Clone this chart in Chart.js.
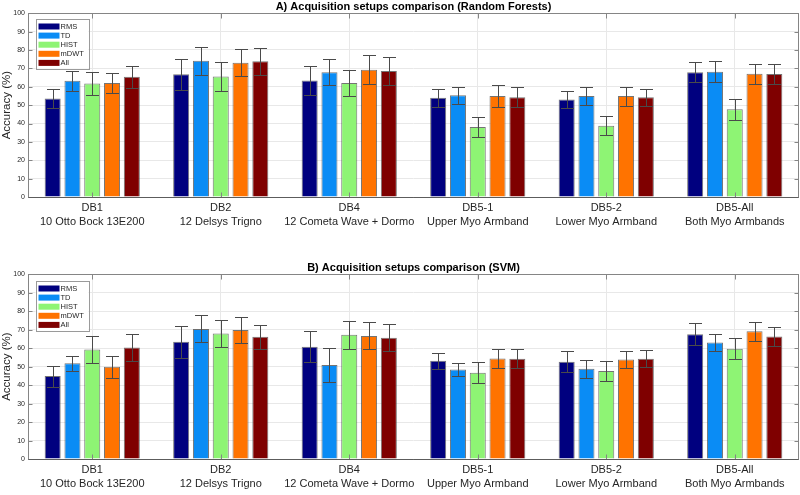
<!DOCTYPE html>
<html>
<head>
<meta charset="utf-8">
<script src="https://cdn.jsdelivr.net/npm/chart.js@4.4.1/dist/chart.umd.min.js"></script>
<style>
  html, body { margin: 0; padding: 0; background: #fff; }
  #wrap { position: relative; width: 800px; height: 495px; }
  canvas { position: absolute; left: 0; }
</style>
</head>
<body>
<div id="wrap">
  <canvas id="chartA" width="800" height="247" style="top:0"></canvas>
  <canvas id="chartB" width="800" height="248" style="top:247px"></canvas>
</div>
<script>
// categories (two-line x labels)
const categories = [
  ['DB1', '10 Otto Bock 13E200'],
  ['DB2', '12 Delsys Trigno'],
  ['DB4', '12 Cometa Wave + Dormo'],
  ['DB5-1', 'Upper Myo Armband'],
  ['DB5-2', 'Lower Myo Armband'],
  ['DB5-All', 'Both Myo Armbands']
];
const features = ['RMS', 'TD', 'HIST', 'mDWT', 'All'];
const featureColors = ['#00007f', '#0a8cf5', '#8ef474', '#ff7300', '#7f0000'];

// A) Random Forests - mean accuracy (%) and error
const rfRms  = [53.6, 66.8, 63.4, 54.0, 53.1, 67.9];
const rfTd   = [63.2, 74.1, 67.9, 55.4, 54.9, 68.2];
const rfHist = [61.8, 65.6, 62.0, 38.1, 38.8, 47.7];
const rfMdwt = [62.0, 73.0, 69.2, 54.9, 54.9, 67.0];
const rfAll  = [65.4, 73.8, 68.6, 54.3, 54.3, 66.9];
const rfRmsErr  = [5.4, 8.3, 7.8, 5.0, 4.5, 5.3];
const rfTdErr   = [5.5, 7.5, 7.2, 4.6, 5.0, 5.6];
const rfHistErr = [6.2, 8.0, 7.0, 5.5, 5.3, 5.8];
const rfMdwtErr = [5.6, 7.4, 7.8, 5.8, 5.2, 5.3];
const rfAllErr  = [6.0, 7.2, 7.5, 5.4, 4.6, 5.6];

// B) SVM - mean accuracy (%) and error
const svmRms  = [44.9, 63.5, 60.8, 53.2, 52.7, 67.5];
const svmTd   = [51.8, 70.4, 50.9, 48.4, 48.8, 63.1];
const svmHist = [59.2, 67.9, 67.2, 46.7, 47.6, 59.7];
const svmMdwt = [49.9, 69.8, 66.6, 54.4, 53.9, 69.1];
const svmAll  = [60.3, 66.1, 65.6, 54.3, 54.3, 66.3];
const svmRmsErr  = [5.7, 8.6, 8.4, 4.4, 5.6, 6.0];
const svmTdErr   = [4.1, 7.3, 9.0, 3.5, 4.9, 4.8];
const svmHistErr = [7.2, 7.3, 7.7, 5.8, 5.2, 5.7];
const svmMdwtErr = [5.9, 6.8, 7.3, 5.4, 4.4, 5.3];
const svmAllErr  = [7.2, 6.4, 7.4, 5.3, 4.5, 5.0];

const FONT = "'Liberation Sans', Arial, Helvetica, sans-serif";
const AXIS = '#858585';

// error bars drawn from the y scale
const errorBars = {
  id: 'errorBars',
  afterDatasetsDraw(chart) {
    const ctx = chart.ctx, y = chart.scales.y;
    ctx.save();
    ctx.strokeStyle = '#4a4a4a';
    ctx.lineWidth = 1;
    chart.data.datasets.forEach((ds, i) => {
      chart.getDatasetMeta(i).data.forEach((bar, j) => {
        const top = Math.round(y.getPixelForValue(ds.data[j] + ds.err[j])) + 0.5;
        const bot = Math.round(y.getPixelForValue(ds.data[j] - ds.err[j])) + 0.5;
        const x = Math.round(bar.x) + 0.5;
        ctx.beginPath();
        ctx.moveTo(x, top); ctx.lineTo(x, bot);
        ctx.moveTo(x - 6.5, top); ctx.lineTo(x + 6.5, top);
        ctx.moveTo(x - 6.5, bot); ctx.lineTo(x + 6.5, bot);
        ctx.stroke();
      });
    });
    ctx.restore();
  }
};

// box around the axes + inner ticks + legend
const axesBox = {
  id: 'axesBox',
  afterDraw(chart) {
    const ctx = chart.ctx, a = chart.chartArea;
    const xs = chart.scales.x, ys = chart.scales.y;
    ctx.save();
    ctx.strokeStyle = AXIS;
    ctx.lineWidth = 1;
    const L = Math.round(a.left) + 0.5, R = Math.round(a.right) - 0.5;
    const T = Math.round(a.top) + 0.5, B = Math.round(a.bottom) + 0.5;
    ctx.strokeRect(L, T, R - L, B - T);
    ctx.beginPath();
    ys.ticks.forEach(t => {
      const py = Math.round(ys.getPixelForValue(t.value)) + 0.5;
      ctx.moveTo(L, py); ctx.lineTo(L + 4, py);
      ctx.moveTo(R, py); ctx.lineTo(R - 4, py);
    });
    categories.forEach((c, j) => {
      const px = Math.round(xs.getPixelForValue(j)) + 0.5;
      ctx.moveTo(px, T); ctx.lineTo(px, T + 5);
      ctx.moveTo(px, B); ctx.lineTo(px, B - 5);
    });
    ctx.stroke();
    // darker bottom axis line
    ctx.strokeStyle = '#5c5c5c';
    ctx.beginPath();
    ctx.moveTo(L, B); ctx.lineTo(R, B);
    ctx.stroke();

    // legend
    const lx = a.left + 7.5, ly = a.top + chart.options.legendOffset;
    ctx.fillStyle = '#fff';
    ctx.fillRect(lx, ly, 53, 50);
    ctx.strokeStyle = '#9a9a9a';
    ctx.strokeRect(Math.round(lx) + 0.5, Math.round(ly) + 0.5, 53, 50);
    ctx.font = '7.5px ' + FONT;
    ctx.textBaseline = 'middle';
    chart.data.datasets.forEach((ds, i) => {
      const cy = ly + 7.8 + i * 9.1;
      ctx.fillStyle = ds.backgroundColor;
      ctx.fillRect(lx + 3, cy - 3, 21, 6);
      ctx.fillStyle = '#262626';
      ctx.fillText(ds.label, lx + 25, cy + 0.3);
    });
    ctx.restore();
  }
};

function makeSets(means, errs) {
  return features.map((f, i) => ({
    label: f,
    data: means[i],
    err: errs[i],
    backgroundColor: featureColors[i],
    borderColor: 'rgba(70,70,70,0.75)',
    borderWidth: 1,
    barPercentage: 0.81,
    categoryPercentage: 0.77
  }));
}

function makeChart(id, title, means, errs, padTop, padBottom, legendOffset) {
  return new Chart(document.getElementById(id), {
    type: 'bar',
    data: { labels: categories, datasets: makeSets(means, errs) },
    options: {
      responsive: false,
      animation: false,
      legendOffset: legendOffset,
      layout: { padding: { top: padTop, bottom: padBottom, left: 0, right: 1 } },
      plugins: {
        legend: { display: false },
        tooltip: { enabled: false },
        title: {
          display: true, text: title, color: '#000', fullSize: false,
          font: { family: FONT, size: 11, weight: 'bold', lineHeight: 1.2 },
          padding: { top: 0, bottom: 0 }
        }
      },
      scales: {
        x: {
          grid: { offset: false, color: '#e8e8e8', drawTicks: false },
          border: { display: false },
          ticks: {
            color: '#262626', padding: 4, maxRotation: 0, autoSkip: false,
            font: { family: FONT, size: 11, lineHeight: 1.27 }
          }
        },
        y: {
          min: 0, max: 100,
          grid: { color: '#e8e8e8', drawTicks: false },
          border: { display: false },
          ticks: { stepSize: 10, color: '#262626', padding: 3, font: { family: FONT, size: 7 } },
          title: {
            display: true, text: 'Accuracy (%)', color: '#262626', padding: 0,
            font: { family: FONT, size: 11.5 }
          },
          afterFit(scale) { scale.width = 28; }
        }
      }
    },
    plugins: [errorBars, axesBox]
  });
}

makeChart('chartA', 'A) Acquisition setups comparison (Random Forests)',
  [rfRms, rfTd, rfHist, rfMdwt, rfAll],
  [rfRmsErr, rfTdErr, rfHistErr, rfMdwtErr, rfAllErr], 0, 14, 5.5);

makeChart('chartB', 'B) Acquisition setups comparison (SVM)',
  [svmRms, svmTd, svmHist, svmMdwt, svmAll],
  [svmRmsErr, svmTdErr, svmHistErr, svmMdwtErr, svmAllErr], 14, 0, 6.5);
</script>
</body>
</html>
